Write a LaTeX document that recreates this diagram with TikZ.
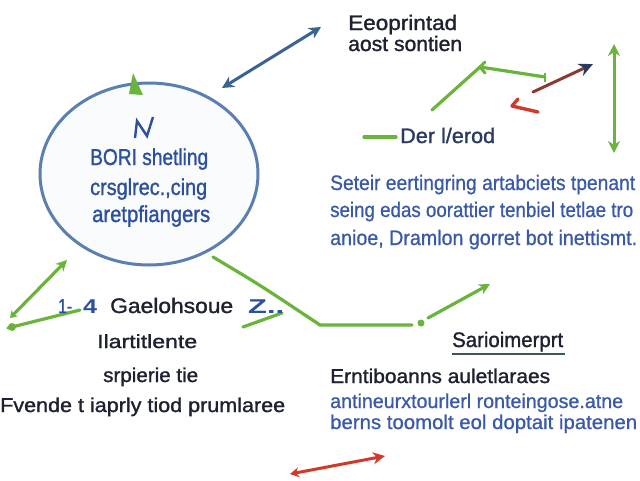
\documentclass[tikz,border=0pt]{standalone}
\usepackage{fontspec}
\usepackage{graphicx}
\setmainfont{Liberation Sans}
\newfontfamily\medf[FakeBold=1.3]{Liberation Sans}
\newfontfamily\regf[FakeBold=0.8]{Liberation Sans}
\newcommand\fw[2]{\resizebox{#1pt}{\height}{#2}}
\usetikzlibrary{arrows.meta,shapes.geometric}
\definecolor{ringblue}{HTML}{5A7FB0}
\definecolor{txtblue}{HTML}{2C4F9E}
\definecolor{parblue}{HTML}{3A5AA8}
\definecolor{darktxt}{HTML}{1E2230}
\definecolor{grn}{HTML}{6AB43C}
\definecolor{arrblue}{HTML}{3A6293}
\definecolor{redc}{HTML}{D03A2A}
\definecolor{brownc}{HTML}{8A3A30}
\definecolor{navyc}{HTML}{2A3A60}
\definecolor{ulgreen}{HTML}{3A5A50}
\begin{document}
\begin{tikzpicture}[x=1pt,y=-1pt,
  lbl/.style={inner sep=0pt,anchor=base west,font=\fontsize{20}{20}\selectfont\regf},
  bluetxt/.style={lbl,text=txtblue},
  partxt/.style={lbl,text=parblue},
  dtxt/.style={lbl,text=darktxt,font=\fontsize{20}{20}\selectfont\medf},
  gline/.style={draw=grn,line width=3.2pt,line cap=round},
  garrow/.style={gline,-{Stealth[length=11pt,width=11pt]}}]
\useasboundingbox (0,0) rectangle (640,480);
\fill[white] (0,0) rectangle (640,480);

% hub ellipse
\node[ellipse,draw=ringblue,line width=3pt,fill=ringblue!3,minimum width=218pt,minimum height=182pt] (hub) at (149,174) {};
\node[bluetxt,font=\fontsize{23}{23}\selectfont\medf] (h1) at (90,165) {\fw{118}{BORI shetling}};
\node[bluetxt,font=\fontsize{23}{23}\selectfont\medf] (h2) at (90,195) {\fw{117}{crsglrec.,cing}};
\node[bluetxt,font=\fontsize{23}{23}\selectfont\medf] (h3) at (92,222) {\fw{118}{aretpfiangers}};
\draw[txtblue,line width=2.4pt,line join=miter] (135,138)--(137,121)--(147,136)--(153,117);
\fill[grn] (133,73) -- (143,95) -- (129,94) -- cycle;

% top blue double arrow
\coordinate (ba1) at (222,88);
\coordinate (ba2) at (321,27);
\draw[arrblue,line width=3pt,{Stealth[length=12pt,width=12pt]}-{Stealth[length=12pt,width=12pt]}] (ba1) -- (ba2);

% top right text
\node[dtxt,font=\fontsize{21}{21}\selectfont\medf] (t1) at (348,30) {\fw{109}{Eeoprintad}};
\node[dtxt,font=\fontsize{21}{21}\selectfont\medf] (t2) at (348,51) {\fw{114}{aost sontien}};

% green zigzag
\coordinate (z1) at (432,110);
\coordinate (z2) at (480,67);
\coordinate (z3) at (545,77);
\draw[gline] (z1) -- (z2) -- (z3);
\draw[grn,line width=3pt,line cap=round] (485,62) -- (480,67) -- (485,73);
\draw[grn,line width=2.5pt] (545,73) -- (545,82);
% brown arrow with navy head
\coordinate (br1) at (533,92);
\coordinate (br2) at (593,64);
\draw[brownc,line width=3pt,line cap=round,-{Stealth[length=14pt,width=13pt,color=navyc]}] (br1) -- (br2);
% red mark
\coordinate (rm0) at (518,99);
\coordinate (rm1) at (512,106);
\coordinate (rm2) at (538,112);
\draw[redc,line width=3.4pt,line cap=round,line join=round] (rm0) -- (rm1) -- (rm2);
% green vertical double arrow
\coordinate (gv1) at (614,44);
\coordinate (gv2) at (614,153);
\draw[grn,line width=3pt,{Stealth[length=12pt,width=12pt]}-{Stealth[length=12pt,width=12pt]}] (gv1) -- (gv2);

% legend
\coordinate (lg1) at (364,137);
\coordinate (lg2) at (396,137);
\draw[gline] (lg1) -- (lg2);
\node[lbl,text=navyc,font=\fontsize{21}{21}\selectfont\medf] (leg) at (400,143) {\fw{95}{Der l/erod}};

% paragraph
\node[partxt,font=\fontsize{21}{21}\selectfont\regf] (p1) at (330,190) {\fw{305}{Seteir eertingring artabciets tpenant}};
\node[partxt,font=\fontsize{21}{21}\selectfont\regf] (p2) at (330,217) {\fw{303}{seing edas oorattier tenbiel tetlae tro}};
\node[partxt,font=\fontsize{21}{21}\selectfont\regf] (p3) at (330,245) {\fw{307}{anioe, Dramlon gorret bot inettismt.}};

% green connector from hub to right
\coordinate (c0) at (213,257);
\coordinate (c1) at (320,325);
\coordinate (c2) at (412,325);
\coordinate (c3) at (428,318);
\coordinate (c4) at (490,284);
\draw[gline] (c0) .. controls (260,285) .. (c1) -- (c2);
\fill[grn] (421,323) circle (3.5pt);
\draw[garrow] (c3) -- (c4);

% left arrows
\coordinate (la1) at (10,318);
\coordinate (la2) at (67,260);
\draw[gline,{Stealth[length=7pt,width=9pt]}-{Stealth[length=11pt,width=11pt]}] (la1) -- (la2);
\coordinate (lb1) at (8,328);
\coordinate (lb2) at (80,310);
\draw[gline] (lb1) -- (lb2);
\fill[grn] (12,327) circle (4pt);
\coordinate (zl1) at (243,327);
\coordinate (zl2) at (282,313);
\draw[gline] (zl1) -- (zl2);

% left text block
\node[lbl,text=txtblue,font=\fontsize{20}{20}\selectfont\medf] (n1) at (58,313) {\fw{14}{1-}};
\node[lbl,text=txtblue,font=\fontsize{20}{20}\selectfont\bfseries] (n4) at (83,313) {\fw{14}{4}};
\node[dtxt,font=\fontsize{21}{21}\selectfont\medf] (g1) at (110,313) {\fw{123}{Gaelohsoue}};
\node[lbl,text=txtblue,font=\fontsize{20}{20}\selectfont\bfseries] (zz) at (248,313) {\fw{36}{Z..}};
\node[dtxt,font=\fontsize{19}{19}\selectfont\medf] (l1) at (97,348) {\fw{100}{Ilartitlente}};
\node[dtxt] (l2) at (103,382) {\fw{95}{srpierie tie}};
\node[dtxt,font=\fontsize{20}{20}\selectfont\medf] (l3) at (0,412) {\fw{285}{Fvende t iaprly tiod prumlaree}};

% bottom right block
\node[dtxt,font=\fontsize{21}{21}\selectfont\medf] (s1) at (452,347) {\fw{111}{Sarioimerprt}};
\draw[ulgreen,line width=2pt] (452,354) -- (565,354);
\node[dtxt] (b1) at (330,383) {\fw{220}{Erntiboanns auletlaraes}};
\node[partxt] (b2) at (330,408) {\fw{293}{antineurxtourlerl ronteingose.atne}};
\node[partxt] (b3) at (330,429) {\fw{307}{berns toomolt eol doptait ipatenen}};

% bottom red arrow
\coordinate (ra1) at (290,474);
\coordinate (ra2) at (385,456);
\draw[redc,line width=3pt,{Stealth[length=9pt,width=10pt]}-{Stealth[length=12pt,width=12pt]}] (ra1) -- (ra2);
\end{tikzpicture}
\end{document}
